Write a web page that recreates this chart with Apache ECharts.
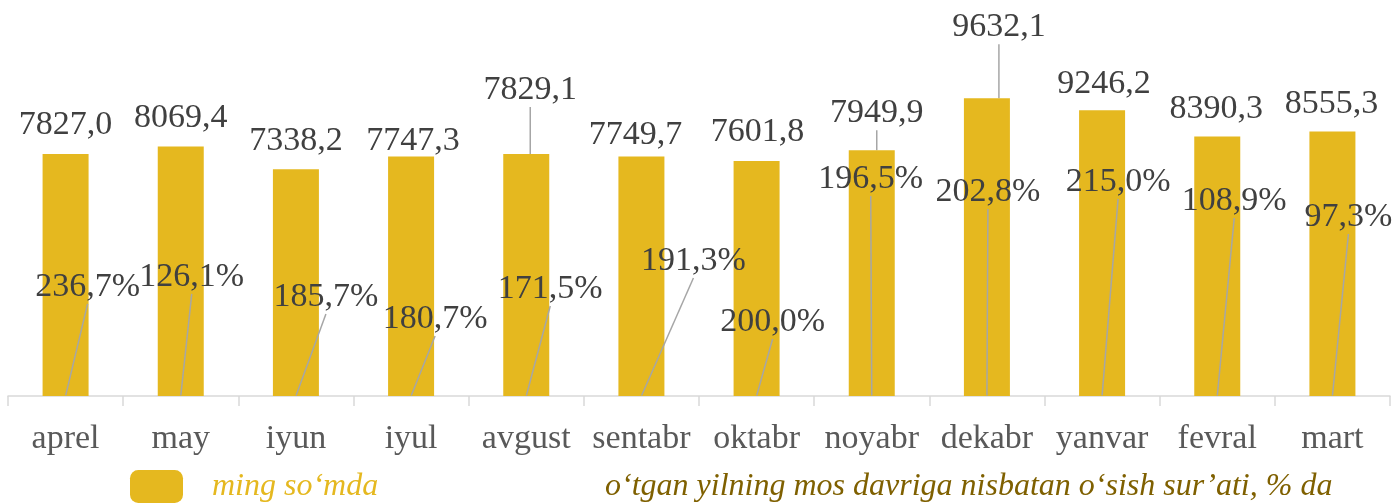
<!DOCTYPE html>
<html>
<head>
<meta charset="utf-8">
<script src="https://cdn.jsdelivr.net/npm/echarts@6/dist/echarts.min.js"></script>
<style>
  html, body { margin: 0; padding: 0; background: #fff; }
  #chart { width: 1394px; height: 504px; }
</style>
</head>
<body>
<div id="chart"></div>
<script>
// oylar va qiymatlar
const months = ['aprel', 'may', 'iyun', 'iyul', 'avgust', 'sentabr', 'oktabr', 'noyabr', 'dekabr', 'yanvar', 'fevral', 'mart']
const amounts = [7827.0, 8069.4, 7338.2, 7747.3, 7829.1, 7749.7, 7601.8, 7949.9, 9632.1, 9246.2, 8390.3, 8555.3]
const growth = [236.7, 126.1, 185.7, 180.7, 171.5, 191.3, 200.0, 196.5, 202.8, 215.0, 108.9, 97.3]

const amountName = 'ming so‘mda'
const growthName = 'o‘tgan yilning mos davriga nisbatan o‘sish sur’ati, % da'

// yorliqlarni qo'lda surish (Excel dagidek): [dx, ko'tarilish]
const amountLabelShift = [[0, 28.5], [0, 28.5], [0, 28], [2, 15.5], [4, 64], [-6, 21], [1, 29], [5, 37], [12, 71], [2, 26], [-1, 27.5], [-1, 27.5]]
const amountLeader = [false, false, false, false, true, false, false, true, true, false, false, false]
const growthLabelShift = [[22, 109], [11, 119], [30, 99], [24, 77], [24, 107], [52, 135], [16, 74], [-1, 217], [1, 204], [16, 214], [17, 195], [16, 179]]

const fmt = v => v.toFixed(1).replace('.', ',')
const serif = 'Liberation Serif'
const leaderStyle = { color: '#a6a6a6', width: 1.5 }

const chart = echarts.init(document.getElementById('chart'))
chart.setOption({
  animation: false,
  grid: { left: 8, right: 4, top: 25, bottom: 108 },
  legend: [
    {
      left: 130, top: 470, padding: 0, itemWidth: 53, itemHeight: 33,
      icon: 'roundRect',
      data: [{ name: amountName }],
      textStyle: { fontFamily: serif, fontStyle: 'italic', fontSize: 32, color: '#E5B81F', padding: [0, 0, 0, 24] }
    },
    {
      left: 523, top: 470, padding: 0, itemWidth: 53, itemHeight: 33,
      icon: 'rect',
      data: [{ name: growthName, itemStyle: { opacity: 0 } }],
      textStyle: { fontFamily: serif, fontStyle: 'italic', fontSize: 32, color: '#7F6000', padding: [0, 0, 0, 24] }
    }
  ],
  xAxis: {
    type: 'category',
    data: months,
    axisLine: { lineStyle: { color: '#d9d9d9', width: 1.5 } },
    axisTick: { show: true, length: 10, lineStyle: { color: '#d9d9d9', width: 1.5 } },
    axisLabel: { interval: 0, fontFamily: serif, fontSize: 34, color: '#595959', margin: 26 }
  },
  yAxis: [
    { type: 'value', min: 0, max: 12000, show: false, splitLine: { show: false } },
    { type: 'value', min: 0, max: 1000000, show: false, splitLine: { show: false } }
  ],
  series: [
    {
      name: amountName,
      type: 'bar',
      barWidth: 46,
      itemStyle: { color: '#E5B81F' },
      data: amounts.map((v, i) => ({ value: v, labelLine: { show: amountLeader[i] } })),
      label: {
        show: true, position: 'top',
        fontFamily: serif, fontSize: 34, color: '#404040',
        formatter: p => fmt(p.value)
      },
      labelLine: { length2: 0, lineStyle: leaderStyle },
      labelLayout: p => {
        const s = amountLabelShift[p.dataIndex]
        const top = Math.min(p.rect.y, p.rect.y + p.rect.height)
        return { x: p.rect.x + p.rect.width / 2 + s[0], y: top - s[1], align: 'center', verticalAlign: 'middle' }
      }
    },
    {
      name: growthName,
      type: 'scatter',
      yAxisIndex: 1,
      symbolSize: 1,
      itemStyle: { color: 'rgba(0,0,0,0)', opacity: 1 },
      data: growth,
      label: {
        show: true, position: 'top',
        fontFamily: serif, fontSize: 34, color: '#404040',
        formatter: p => fmt(p.value) + '%'
      },
      labelLine: { show: true, length2: 0, lineStyle: leaderStyle },
      labelLayout: p => {
        const s = growthLabelShift[p.dataIndex]
        const cx = p.rect.x + p.rect.width / 2
        const cy = p.rect.y + p.rect.height / 2
        return { x: cx + s[0], y: cy - s[1], align: 'center', verticalAlign: 'middle' }
      }
    }
  ]
})
</script>
</body>
</html>
